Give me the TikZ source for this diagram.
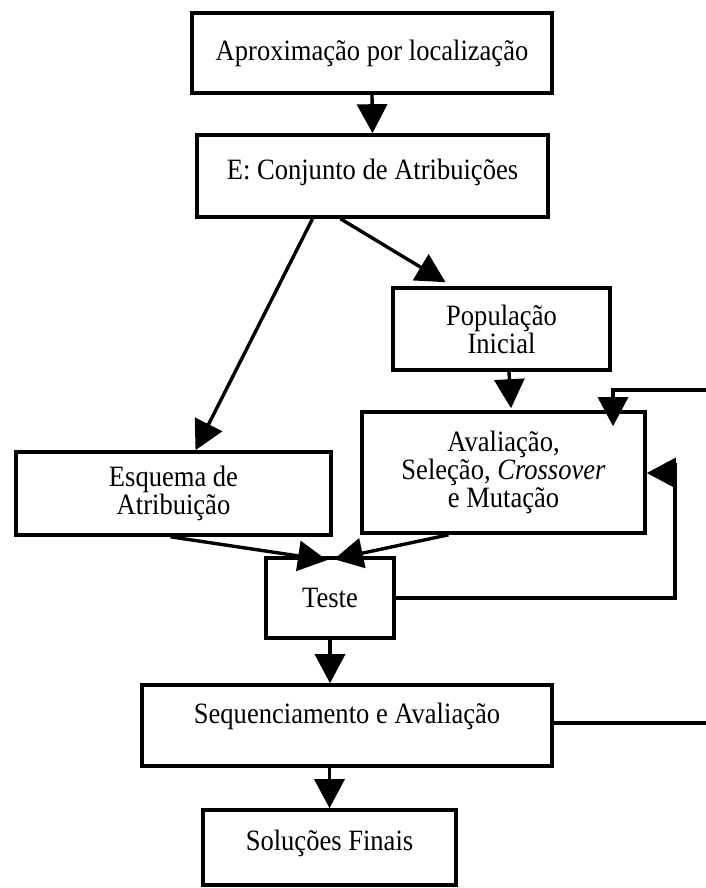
\documentclass[tikz,border=0pt]{standalone}
\usepackage{fontspec}
\setmainfont[FakeStretch=0.9]{Liberation Serif}
\usetikzlibrary{arrows.meta}
\tikzset{
  box/.style={draw, line width=3.6pt, align=center, inner sep=0pt,
    font=\fontsize{29.5}{28}\selectfont},
  arr/.style={line width=3.4pt, -{Triangle[length=29pt,width=30pt]}}
}
\begin{document}
\begin{tikzpicture}[x=1pt,y=-1pt]
      \useasboundingbox (0,0) rectangle (706,888);
      \node[box, minimum width=360, minimum height=80] (aprox) at (372,53) {Aproximação por localização};
      \node[box, minimum width=351, minimum height=82, text depth=14pt] (conj) at (372.5,176) {E: Conjunto de Atribuições};
      \node[box, minimum width=217, minimum height=82] (pop) at (501.5,329) {População\\Inicial};
      \node[box, minimum width=283, minimum height=121] (aval) at (503.5,472.5) {Avaliação,\\Seleção, \textit{Crossover}\\e Mutação};
      \node[box, minimum width=315, minimum height=83] (esq) at (173.5,493.5) {Esquema de\\Atribuição};
      \node[box, minimum width=128, minimum height=80] (teste) at (330,598) {Teste};
      \node[box, minimum width=410, minimum height=81, text depth=24pt] (seq) at (347,725.5) {Sequenciamento e Avaliação};
      \node[box, minimum width=253, minimum height=75, text depth=14pt] (sol) at (329.5,847.5) {Soluções Finais};
      \coordinate (loop) at (675,473);
      \coordinate (inR) at (706,390);
      \coordinate (outR) at (706,723);
      \begin{scope}[arr]
        \draw (aprox.south) -- (conj.north);
        \draw ([xshift=-60pt]conj.south) -- ([xshift=22pt]esq.north);
        \draw ([xshift=-32pt]conj.south) -- ([xshift=-56pt,yshift=4pt]pop.north);
        \draw ([xshift=7.5pt]pop.south) -- ([xshift=7.5pt,yshift=2pt]aval.north);
        \draw ([xshift=-3pt]esq.south) -- ([xshift=-3pt,yshift=-4pt]teste.north);
        \draw ([xshift=-55pt]aval.south) -- ([xshift=4pt,yshift=-3pt]teste.north);
        \draw (teste.south) -- (teste.south |- seq.north);
        \draw (seq.south -| sol.north) -- (sol.north);
        \draw (teste.east) -- (teste.east -| loop) -- ([yshift=10pt]loop) -- (loop) -- (aval.east |- loop);
        \draw (inR) -| ([xshift=109.5pt,yshift=-16pt]aval.north);
      \end{scope}
      \draw[line width=3.4pt] (seq.east |- outR) -- (outR);
    \end{tikzpicture}
\end{document}
